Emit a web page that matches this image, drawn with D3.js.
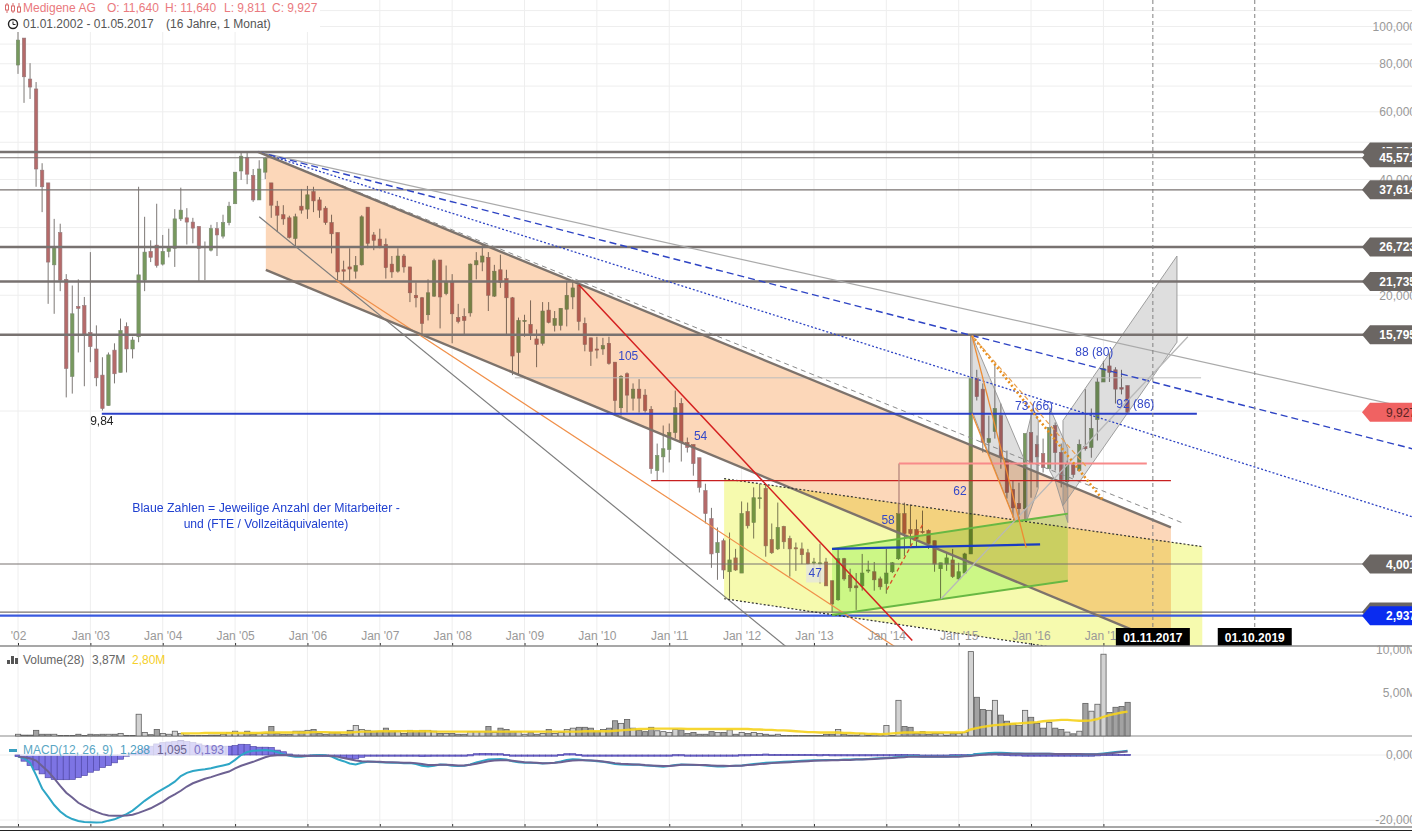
<!DOCTYPE html>
<html><head><meta charset="utf-8">
<script src="https://cdn.jsdelivr.net/npm/d3@7"></script>
<style>
html,body{margin:0;padding:0;background:#fff;overflow:hidden}
svg{display:block;font-family:"Liberation Sans",Arial,sans-serif;font-size:12px}
.blend{mix-blend-mode:multiply}
</style></head><body>
<script>
// ---- monthly OHLC, Jan 2002 .. May 2017 ----
const opens=[79.4,93.3,73.0,68.8,42.3,39.2,24.0,29.1,22.0,12.3,
18.7,18.8,16.0,14.5,12.4,10.33,14.4,12.6,16.6,14.5,
15.6,21.9,26.0,27.0,24.1,26.0,26.5,31.6,31.8,31.0,
30.2,26.7,26.2,29.8,28.5,30.9,34.6,42.1,45.7,41.0,
35.4,41.8,39.2,34.1,32.4,31.8,28.1,34.1,33.5,37.2,
35.4,33.7,30.9,29.1,23.3,23.7,23.1,24.0,33.9,28.7,
28.0,27.1,24.1,23.1,25.3,23.7,20.0,19.7,17.8,19.9,
24.7,20.2,21.6,17.5,17.6,18.0,24.0,24.4,25.1,19.9,
23.3,22.1,19.7,14.2,17.1,16.8,15.4,15.0,18.3,16.7,
16.7,18.4,19.8,21.3,16.9,15.5,14.5,14.5,15.0,13.4,
10.2,12.5,10.8,11.4,11.0,10.1,7.00,7.6,7.94,8.79,
10.46,8.28,8.18,7.56,6.21,5.25,4.28,4.6,3.82,4.15,
3.79,5.48,5.13,5.93,6.29,4.63,4.38,5.01,4.66,4.41,
4.38,4.28,4.03,4.0,4.05,3.62,3.23,4.13,3.74,3.51,
3.51,3.84,3.82,3.66,3.56,3.82,4.13,5.41,4.92,4.92,
4.86,4.89,4.6,3.89,4.0,4.1,3.66,3.79,4.25,12.2,
11.4,8.28,8.85,9.73,7.43,6.25,5.75,5.57,8.79,8.18,
7.75,7.08,9.17,7.8,6.55,7.25,7.0,8.08,8.04,9.5,
11.9,13.1,12.8,11.5,11.64];
const highs=[96.8,93.3,80.3,71.7,44.1,39.2,31.6,30.7,22.7,21.2,
22.0,19.8,25.9,16.7,13.8,14.2,15.0,17.4,17.0,15.6,
38.3,32.0,27.8,34.6,28.7,29.8,33.5,38.1,33.7,31.8,
30.2,27.6,30.5,31.0,32.4,35.0,41.8,47.1,47.4,42.6,
44.9,45.7,39.2,35.2,34.3,32.2,32.6,37.8,38.5,38.3,
36.0,34.1,32.4,29.1,24.6,26.5,25.3,32.3,33.9,29.2,
29.8,28.1,25.3,26.5,25.6,23.7,21.6,19.8,22.0,24.9,
24.7,23.9,22.7,19.0,18.5,24.2,25.9,27.0,25.9,24.0,
25.5,23.3,19.8,17.5,17.8,19.4,16.3,19.2,19.2,18.2,
18.5,21.8,22.0,21.4,17.5,15.5,15.6,15.5,15.6,13.4,
12.4,12.6,11.8,12.1,11.4,10.3,8.23,9.17,9.28,11.3,
10.8,8.53,8.18,7.56,6.47,5.6,4.98,4.66,4.83,4.38,
5.82,5.78,6.33,6.47,6.47,5.1,5.78,5.03,4.74,4.55,
4.55,4.38,4.15,4.52,4.15,3.62,4.38,4.15,3.89,3.79,
4.25,4.08,4.05,3.71,4.38,4.05,5.78,5.78,5.71,5.22,
5.51,4.92,4.6,4.03,4.28,4.38,4.03,4.28,15.7,12.8,
11.8,9.73,13.3,10.46,7.89,6.59,6.51,8.74,9.85,8.64,
8.48,9.06,9.34,8.23,7.43,7.35,8.43,11.4,10.15,12.2,
13.5,14.1,13.0,12.8,11.64];
const lows=[75.3,63.3,64.8,38.3,32.9,19.0,17.9,20.5,10.85,11.1,
14.2,11.6,13.4,11.6,10.03,10.33,11.8,12.6,12.6,13.7,
15.1,20.5,24.4,23.6,23.9,25.1,23.7,31.2,27.1,27.3,
21.8,21.9,26.0,25.3,28.1,30.4,34.6,39.9,38.9,35.0,
35.4,40.1,31.8,29.2,30.5,28.1,26.7,32.6,31.6,32.9,
31.8,30.5,25.7,21.8,21.8,21.6,22.1,23.9,26.5,26.2,
26.5,22.1,22.2,22.9,22.9,19.2,18.6,15.7,17.2,19.8,
16.4,20.0,15.0,16.9,15.7,17.6,22.0,23.1,18.2,19.8,
20.9,15.7,12.4,12.4,15.6,15.3,13.0,14.8,16.9,16.1,
16.2,16.6,18.4,16.2,14.3,13.1,13.7,14.0,13.2,9.73,
9.73,9.91,10.03,9.91,9.91,6.87,6.59,6.92,7.35,8.48,
7.39,7.8,6.79,6.14,5.1,3.91,3.64,3.66,3.25,3.84,
3.79,4.95,4.66,5.57,4.18,4.25,4.35,4.38,3.71,3.84,
4.0,3.98,3.91,3.56,3.51,2.99,3.21,3.62,3.39,3.04,
3.41,3.79,3.41,3.43,3.35,3.79,4.1,4.2,4.41,4.44,
4.8,4.38,3.82,3.25,3.84,3.68,3.64,3.79,4.25,10.65,
7.8,7.66,8.48,7.08,5.92,5.28,5.19,5.19,5.95,6.33,
6.92,7.08,7.0,6.33,6.33,6.71,6.96,7.89,7.56,8.38,
11.9,11.9,10.46,11.05,9.811];
const closes=[92.2,74.0,69.6,42.6,38.3,24.4,26.7,21.9,12.9,17.9,
18.5,15.7,14.7,12.2,10.15,14.0,12.5,16.2,14.5,15.3,
22.6,25.9,25.1,23.9,26.0,26.7,31.6,33.3,31.0,29.9,
26.5,26.8,29.8,28.7,30.9,34.1,41.8,46.0,41.3,35.4,
42.6,45.4,34.3,32.3,31.6,28.3,32.0,33.3,36.5,35.2,
33.3,30.9,28.9,23.0,23.1,23.4,23.9,32.0,27.3,27.8,
26.7,23.6,23.0,25.3,23.7,20.3,19.7,16.9,20.3,24.6,
19.8,21.6,17.9,17.1,17.2,24.1,24.6,25.3,20.0,23.1,
21.6,19.7,13.9,17.2,17.2,15.9,14.9,18.2,17.0,17.4,
18.5,20.0,20.9,17.1,14.9,14.3,14.4,14.8,13.3,10.65,
12.3,11.0,11.4,10.8,10.03,7.08,7.66,7.98,8.79,10.2,
8.28,8.04,7.3,6.33,5.41,4.25,4.55,3.86,4.1,3.86,
5.41,5.03,5.95,5.95,4.46,4.28,4.98,4.57,4.38,4.38,
4.23,4.0,4.05,4.03,3.51,3.15,4.13,3.66,3.47,3.47,
3.79,3.86,3.64,3.49,3.79,4.03,5.41,4.8,4.8,4.66,
4.83,4.52,4.0,4.03,4.15,3.71,3.82,4.25,12.2,10.9,
8.28,8.48,10.15,7.56,6.14,5.6,5.57,8.74,7.3,7.6,
7.13,9.06,7.8,6.63,7.3,6.84,8.18,7.98,9.0,11.9,
12.9,12.6,11.4,11.4,9.927];
// ---- volume (millions) and its 28-period average ----
const volumes=[.2,.1,.1,.65,.2,.2,.2,.05,.05,.05,
.2,.05,.2,.15,.2,.2,.2,.3,.05,.05,
2.5,.4,.15,.75,.3,.2,.55,.3,.1,.05,
.05,.05,.1,.1,.2,.4,.55,.3,.55,.2,
.3,.3,1.1,.3,.2,.2,.55,.55,.65,.75,
.3,.2,.4,.4,.2,.65,1.2,.75,.65,.55,
.55,.9,.55,.55,.3,.65,.55,.65,.65,.55,
.3,.3,.3,.2,.2,.5,.5,.5,1.1,.4,
.9,.75,.5,.5,.2,.4,.2,.3,.75,.3,
.4,.75,.9,1.0,1.0,.9,.5,.75,.9,1.75,
1.45,1.9,.9,.65,.5,1.0,.6,.5,.4,.75,
.7,.3,.4,.2,.2,.5,.4,.4,.7,.2,
.4,.3,.4,.3,.2,.1,.2,.05,.05,.05,
.05,.05,.05,.05,.2,.2,.75,.2,.1,.1,
.3,.1,.3,.2,1.2,.05,4.1,1.1,1.0,.3,
.5,.2,.3,.3,.1,.3,.3,.4,9.7,4.45,
3.05,2.95,4.1,2.4,1.7,1.4,1.2,2.95,2.15,1.45,
.9,1.55,.9,.75,.45,.25,.55,3.75,2.85,3.65,
9.4,2.7,3.3,3.4,3.87];
const volumeAvgFirstMonth=27;
const volumeAvg=[.3,.3,.3,.3,.35,.35,.35,.35,.35,.35,
.35,.35,.35,.35,.4,.4,.4,.4,.4,.4,
.4,.4,.45,.45,.45,.4,.4,.4,.4,.45,
.5,.5,.5,.55,.55,.55,.55,.55,.55,.55,.55,.55,.5,
.5,.5,.5,.5,.5,.5,.5,.5,.5,.5,
.5,.5,.5,.5,.5,.5,.5,.5,.5,.5,
.5,.5,.5,.5,.55,.55,.55,.55,.55,.6,
.65,.7,.75,.8,.8,.85,.85,.85,.85,.85,
.85,.8,.8,.8,.8,.8,.8,.8,.8,.8,
.8,.8,.75,.75,.7,.7,.65,.65,.6,.55,
.5,.45,.45,.4,.4,.4,.4,.35,.35,.3,
.3,.25,.25,.2,.25,.3,.35,.4,.4,.4,
.4,.4,.4,.4,.4,.4,.4,.45,.75,.9,
1.05,1.15,1.25,1.3,1.35,1.4,1.45,1.5,1.55,1.6,
1.7,1.75,1.8,1.85,1.85,1.8,1.75,1.75,1.8,1.95,
2.2,2.4,2.55,2.7,2.8];
// ---- MACD(12,26,9) ----
const macdLine=[-.5,-1.0,-2.4,-6.2,-10.3,-12.8,-15.4,-17.4,-18.8,-19.7,
-20.3,-20.6,-20.7,-20.8,-20.7,-20.2,-19.8,-19.0,-18.2,-17.1,
-15.6,-14.1,-12.8,-11.6,-10.5,-9.4,-8.2,-6.5,-5.5,-4.9,
-4.6,-4.4,-4.1,-3.6,-3.2,-2.8,-1.5,0,.9,1.3,
1.4,1.5,1.3,.9,.2,-.2,-.5,-.5,-.3,-.1,
0,-.1,-.5,-1.3,-1.9,-2.6,-2.9,-2.4,-2.1,-2.1,
-2.2,-2.3,-2.4,-2.4,-2.5,-2.5,-2.8,-3.3,-3.5,-3.3,
-2.9,-3.0,-3.3,-3.4,-3.3,-2.9,-2.3,-1.8,-1.4,-1.3,
-1.2,-1.4,-1.9,-2.2,-2.4,-2.4,-2.5,-2.6,-2.5,-2.4,
-2.0,-1.5,-1.3,-1.4,-1.6,-1.7,-1.9,-2.1,-2.4,-2.8,
-2.9,-3.0,-2.9,-3.0,-3.2,-3.3,-3.5,-3.6,-3.4,-3.1,
-2.9,-3.0,-3.1,-3.1,-3.2,-3.4,-3.5,-3.5,-3.4,-3.3,
-3.2,-3.0,-2.8,-2.6,-2.4,-2.3,-2.2,-2.1,-2.0,-1.9,
-1.8,-1.7,-1.6,-1.6,-1.5,-1.5,-1.5,-1.4,-1.4,-1.3,
-1.3,-1.2,-1.1,-1.0,-.9,-.8,-.6,-.5,-.4,-.4,
-.5,-.5,-.5,-.5,-.5,-.4,-.4,-.3,-.1,.3,
.5,.6,.7,.7,.6,.5,.5,.4,.4,.4,
.4,.4,.3,.3,.3,.2,.2,.2,.2,.3,
.5,.7,.9,1.1,1.288];
const signalLine=[-.5,-.7,-1.0,-1.7,-3.4,-5.1,-7.2,-9.5,-11.6,-13.1,
-14.7,-15.7,-16.7,-17.5,-18.2,-18.6,-18.7,-18.7,-18.6,-18.4,
-17.8,-17.1,-16.4,-15.4,-14.4,-13.1,-12.1,-11.0,-9.7,-8.7,
-8.0,-7.3,-6.8,-6.2,-5.6,-5.1,-4.1,-3.3,-2.7,-2.1,
-1.4,-.7,-.2,-.1,0,-.1,-.2,-.3,-.3,-.2,
-.2,-.2,-.3,-.5,-.9,-1.3,-1.7,-1.9,-2.0,-2.1,
-2.1,-2.2,-2.2,-2.3,-2.4,-2.4,-2.5,-2.8,-3.1,-3.1,
-3.0,-3.0,-3.1,-3.2,-3.2,-3.0,-2.7,-2.3,-1.9,-1.7,
-1.6,-1.6,-1.8,-2.0,-2.2,-2.3,-2.4,-2.5,-2.5,-2.4,
-2.2,-1.9,-1.7,-1.6,-1.6,-1.7,-1.8,-2.0,-2.2,-2.5,
-2.7,-2.8,-2.9,-2.9,-3.1,-3.2,-3.3,-3.4,-3.4,-3.2,
-3.0,-3.0,-3.0,-3.1,-3.1,-3.2,-3.3,-3.3,-3.4,-3.3,
-3.3,-3.1,-3.0,-2.8,-2.7,-2.5,-2.4,-2.3,-2.2,-2.1,
-2.0,-1.9,-1.8,-1.7,-1.7,-1.6,-1.6,-1.5,-1.5,-1.4,
-1.4,-1.3,-1.2,-1.1,-1.0,-.9,-.8,-.7,-.5,-.5,
-.5,-.5,-.5,-.5,-.5,-.5,-.5,-.4,-.3,-.1,
.1,.2,.3,.4,.4,.4,.4,.4,.4,.4,
.4,.4,.3,.3,.3,.3,.3,.2,.2,.2,
.3,.5,.7,.9,1.095];
const macdHist=[-.5,-1.9,-3.2,-4.6,-5.8,-7.0,-7.5,-7.6,-7.6,-7.5,
-6.9,-6.3,-5.3,-4.7,-3.8,-3.2,-2.4,-1.3,0,.5,
1.0,2.0,2.7,3.4,3.8,4.0,4.2,4.3,4.2,3.9,
3.4,3.0,2.8,2.7,2.7,2.7,2.9,3.3,3.2,2.6,
2.4,2.4,2.3,1.5,1.0,.3,-.1,-.1,0,0,
0,0,-.2,-.6,-.9,-1.1,-1.2,-.7,-.2,0,
-.1,-.1,-.2,-.1,-.1,-.1,-.3,-.5,-.4,-.2,
0,0,-.2,-.2,-.1,.1,.4,.5,.5,.4,
.4,.2,-.1,-.2,-.2,-.1,-.1,-.1,0,0,
.2,.4,.4,.2,0,0,-.1,-.1,-.2,-.3,
-.2,-.2,0,-.1,-.1,-.1,-.2,-.2,0,.1,
.1,0,-.1,0,-.1,-.2,-.2,-.2,0,0,
.1,.1,.2,.2,.3,.2,.2,.2,.2,.2,
.2,.2,.2,.1,.2,.1,.1,.1,.1,.1,
.1,.1,.1,.1,.1,.1,.2,.2,.1,.1,
0,0,0,0,0,.1,.1,.1,.2,.4,
.4,.4,.4,.3,.2,.1,.1,0,0,0,
0,0,0,0,0,-.1,-.1,0,0,.1,
.2,.2,.2,.2,.193];
// ---- axis labels ----
const timeTickMonths=[0,12,24,36,48,60,72,84,96,108,120,132,144,156,168,180];
const timeTickLabels=["'02","Jan '03","Jan '04","Jan '05","Jan '06","Jan '07","Jan '08","Jan '09","Jan '10","Jan '11","Jan '12","Jan '13","Jan '14","Jan '15","Jan '16","Jan '17"];
const priceGridValues=[110,100,90,80,70,60,50,40,30,20,10];
const priceTickValues=[100,80,60,40,20];
const volumeTickValues=[10,5];
const macdTickValues=[0,-20];
// ---- horizontal levels ----
const levelPrices=[47.2,45.571,37.614,26.723,21.735,15.795,4.001,3.0];
const levelWidths=[2.5,1.2,1.2,2.5,2.5,2.5,1.2,1.2];
const levelLabels=["47,528","45,571","37,614","26,723","21,735","15,795","4,001","3,000"];
const lastClose=9.927, lastCloseLabel="9,927";
const blueLevel=2.937, blueLevelLabel="2,937";
// ---- drawing tools: [month index, price] ----
const orangeChannel=[[41.1,46.3],[191.2,4.98],[191.2,2.45],[41.1,23.3]];
const channelTop=[[39.8,47.2],[191.2,4.98]];
const channelBottom=[[41.1,23.3],[191.2,2.45]];
const grayDashed=[[39.8,47.2],[193.5,5.09]];
const blueDashed=[[39.8,47.2],[231.2,7.98]];
const blueDotted=[[39.8,47.2],[231.2,5.31]];
const grayFan=[[39.8,47.2],[231.2,10.15]];
const darkFan=[[40.0,32.0],[127.5,2.43]];
const orangeFan=[[52.7,21.9],[145.4,2.44]];
const redTrend=[[93.0,21.3],[148.3,2.53]];
const redLevel=[[105,6.59],[191.2,6.59]];
const paleRedLevel=[[146.1,7.3],[187.2,7.3]];
const paleRedStem=[[146.1,7.3],[146.1,5.41]];
const supportLevel=[[13.9,9.84],[195.5,9.84]];
const blueShort=[[135,4.38],[169.5,4.5]];
const paleLevel=[[82.4,12.2],[196.2,12.2]];
const yellowChannel=[[117.1,6.67],[196.4,4.44],[196.4,2.13],[117.1,3.25]];
const yellowTop=[[117.1,6.67],[196.4,4.44]];
const yellowBottom=[[117.1,3.25],[196.4,2.13]];
const greenChannel=[[135,4.38],[174.1,5.41],[174.1,3.62],[135,2.95]];
const greenTop=[[135,4.38],[174.1,5.41]];
const greenBottom=[[135,2.95],[174.1,3.62]];
const grayShapes=[
 [[158.2,15.7],[167.3,7.21],[167.3,5.19],[165.3,5.19],[158.2,10.03]],
 [[167.3,5.19],[167.3,8.74],[168.3,10.15],[169.2,9.45],[169.2,6.29]],
 [[171.1,10.2],[174.1,7.98],[174.1,5.13],[172,6.59],[171.1,7.0]],
 [[173.3,9.45],[192.2,25.3],[192.2,15.1],[173.3,5.68]]];
const orangeEdgeA=[[158.2,15.7],[167.2,4.41]];
const orangeEdgeB=[[158.2,9.85],[165.3,5.19]];
const orangeDotted=[[158.2,15.7],[179.9,5.88]];
const orangeDashed=[[158.2,15.7],[177.3,7.13]];
const redDashed=[[144.1,3.43],[150.1,5.09]];
const paleRise=[[153.1,3.25],[194,15.6]];
const futureMonths=[188.2,205.1];
const futureLabels=["01.11.2017","01.10.2019"];
// ---- chart notes ----
const noteMonths=[101.2,113.2,156.2,144.3,132.2,168.5,178.5,185.3];
const notePrices=[13.9,8.6,6.19,5.2,3.78,10.3,14.2,10.4];
const noteTexts=["105","54","62","58","47","73 (66)","88 (80)","92 (86)"];

const W=1412,H=831,RIGHT_TEXT=1416;
const svg=d3.select("body").append("svg").attr("width",W).attr("height",H);
const x=d3.scaleLinear().domain([0,184]).range([18,18+6.03*184]);
const y=d3.scaleLog().domain([100,1]).range([26.5,26.5+167*Math.log(100)]);
const yVol=d3.scaleLinear().domain([0,10]).range([736,649]);
const yMacd=d3.scaleLinear().domain([0,-20]).range([755,820]);
const lineP=d3.line().x(d=>x(d[0])).y(d=>y(d[1]));
const months=d3.range(opens.length);
const defs=svg.append("defs");
defs.append("clipPath").attr("id","main").append("rect").attr("width",W).attr("height",646);

// grid
const grid=svg.append("g").attr("stroke","#eeeeee").attr("stroke-width",1);
grid.selectAll(".v").data(timeTickMonths).join("line").attr("x1",d=>x(d)).attr("x2",d=>x(d)).attr("y1",0).attr("y2",827);
grid.selectAll(".h").data(priceGridValues).join("line").attr("x1",0).attr("x2",W).attr("y1",d=>y(d)).attr("y2",d=>y(d));
grid.selectAll(".m").data(macdTickValues).join("line").attr("x1",0).attr("x2",W).attr("y1",d=>yMacd(d)).attr("y2",d=>yMacd(d));

// price axis labels
const yAxis=d3.axisLeft(y).tickValues(priceTickValues).tickSize(0).tickPadding(0).tickFormat(d=>d.toFixed(3).replace(".",","));
const gy=svg.append("g").attr("transform",`translate(${RIGHT_TEXT},0)`).call(yAxis);
gy.select(".domain").remove();
gy.selectAll("text").attr("fill","#999").attr("font-size",12).attr("font-family","Liberation Sans");

const main=svg.append("g").attr("clip-path","url(#main)");
// candles
const candles=main.append("g");
candles.selectAll("line").data(months).join("line")
 .attr("x1",i=>x(i)).attr("x2",i=>x(i)).attr("y1",i=>y(highs[i])).attr("y2",i=>y(lows[i]))
 .attr("stroke","#7d7875").attr("stroke-width",1);
candles.selectAll("rect").data(months).join("rect")
 .attr("x",i=>x(i)-1.7).attr("width",3.4)
 .attr("y",i=>y(Math.max(opens[i],closes[i])))
 .attr("height",i=>Math.max(1,Math.abs(y(opens[i])-y(closes[i]))))
 .attr("fill",i=>closes[i]>opens[i]?"#77995e":"#b56a6a")
 .attr("stroke",i=>closes[i]>opens[i]?"#7b8a70":"#94797a").attr("stroke-width",.6);

// filled tools
function fillShape(pts,col){main.append("path").attr("class","blend").attr("d",lineP(pts)+"Z").attr("fill",col);}
fillShape(yellowChannel,"#f6faae");
fillShape(orangeChannel,"#fcd7b9");
fillShape(greenChannel,"#d4fcc4");
grayShapes.forEach(s=>fillShape(s,"#dedede"));
function stroke(pts,col,w,dash){const p=main.append("path").attr("d",lineP(pts)).attr("fill","none").attr("stroke",col).attr("stroke-width",w);if(dash)p.attr("stroke-dasharray",dash);return p;}
grayShapes.forEach(s=>stroke(s.concat([s[0]]),"#949494",.9));

// horizontal levels
levelPrices.forEach((p,k)=>{main.append("line").attr("x1",0).attr("x2",1365).attr("y1",y(p)).attr("y2",y(p)).attr("stroke","#787270").attr("stroke-width",levelWidths[k]);});
main.append("line").attr("x1",0).attr("x2",1365).attr("y1",y(blueLevel)).attr("y2",y(blueLevel)).attr("stroke","#3a5ae0").attr("stroke-width",2.2);
stroke(paleLevel,"#bdbdbd",1);

// line tools
stroke(darkFan,"#7d7d7d",1.2);
stroke(orangeFan,"#f0904a",1.2);
stroke(grayFan,"#aaaaaa",1.2);
stroke(grayDashed,"#8a8a8a",1,"5,4");
stroke(blueDashed,"#2e44c4",1.4,"7,4");
stroke(blueDotted,"#2e44c4",1.3,"2,2");
stroke(channelTop,"#7d736c",2.4);
stroke(channelBottom,"#7d736c",2.4);
stroke(yellowTop,"#333",1.2,"2,2");
stroke(yellowBottom,"#333",1.2,"2,2");
stroke(greenTop,"#68b843",2);
stroke(greenBottom,"#68b843",2);
stroke(paleRise,"#b8b8b8",1.3);
stroke(redTrend,"#d42020",1.5);
stroke(redLevel,"#c82020",1.2);
stroke(paleRedStem,"#b08078",1.2);
stroke(paleRedLevel,"#f88a8a",2);
stroke(supportLevel,"#2a3fc8",2.2);
stroke(blueShort,"#1a3cc0",2.2);
stroke(orangeEdgeA,"#ee8c32",1.3);
stroke(orangeEdgeB,"#ee8c32",1.3);
stroke(orangeDotted,"#e8901e",2.6,"2,2.5");
stroke(orangeDashed,"#e9a050",1.2,"5,3");
stroke(redDashed,"#d8502a",1.3,"4,3");

// future verticals
main.selectAll(".fut").data(futureMonths).join("line")
 .attr("x1",d=>x(d)).attr("x2",d=>x(d)).attr("y1",0).attr("y2",646)
 .attr("stroke","#808080").attr("stroke-dasharray","4,3");

// notes
main.append("rect").attr("x",x(noteMonths[4])-9).attr("y",y(notePrices[4])-9).attr("width",18).attr("height",18).attr("fill","#e6e6dc").attr("opacity",.8);
main.selectAll(".note").data(noteTexts).join("text")
 .attr("x",(d,i)=>x(noteMonths[i])).attr("y",(d,i)=>y(notePrices[i])+4)
 .attr("text-anchor","middle").attr("fill","#3448c8").text(d=>d);
main.append("text").attr("x",x(13.9)).attr("y",y(9.84)+11).attr("text-anchor","middle").attr("fill","#222").text("9,84");
main.append("text").attr("x",266).attr("y",512).attr("text-anchor","middle").attr("fill","#2040d0").attr("font-size",12.3).text("Blaue Zahlen = Jeweilige Anzahl der Mitarbeiter - ");
main.append("text").attr("x",266).attr("y",528).attr("text-anchor","middle").attr("fill","#2040d0").attr("font-size",12.1).text("und (FTE / Vollzeitäquivalente)");

// time axis
const xAxisTop=d3.axisTop(x).tickValues(timeTickMonths).tickSize(3).tickPadding(3).tickFormat((d,i)=>timeTickLabels[i]);
const gx=svg.append("g").attr("transform","translate(0,646)").call(xAxisTop);
gx.select(".domain").remove();
gx.selectAll("line").attr("stroke","#333");
gx.selectAll("text").attr("fill","#999").attr("font-size",12).attr("font-family","Liberation Sans");
const gx2=svg.append("g").attr("transform","translate(0,827)").call(d3.axisTop(x).tickValues(timeTickMonths).tickSize(3).tickFormat(""));
gx2.select(".domain").remove();gx2.selectAll("line").attr("stroke","#333");
// future date tags
const tags=svg.selectAll(".tag").data(futureMonths).join("g").attr("transform",d=>`translate(${x(d)},637)`);
tags.append("rect").attr("x",-37).attr("y",-9).attr("width",74).attr("height",18).attr("fill","#000");
tags.append("text").attr("y",4.5).attr("text-anchor","middle").attr("fill","#fff").attr("font-weight","bold").text((d,i)=>futureLabels[i]);

// panel borders
[[646,"#8a8a8a",1.5],[736,"#8a8a8a",1.2],[827,"#8a8a8a",1.5],[830.5,"#222",1]].forEach(a=>svg.append("line").attr("x1",0).attr("x2",W).attr("y1",a[0]).attr("y2",a[0]).attr("stroke",a[1]).attr("stroke-width",a[2]));

// price tags
const tagPath=d3.line().x(d=>d[0]).y(d=>d[1]);
function priceTag(p,label,fill,txtCol,weight){
 const c=y(p);
 svg.append("path").attr("d",tagPath([[1362,c],[1370,c-9.5],[1412,c-9.5],[1412,c+9.5],[1370,c+9.5]])+"Z").attr("fill",fill);
 svg.append("text").attr("x",RIGHT_TEXT).attr("y",c+4.5).attr("text-anchor","end").attr("fill",txtCol).attr("font-weight",weight).text(label);
}
levelPrices.forEach((p,k)=>priceTag(p,levelLabels[k],"#6b6663","#fff","bold"));
priceTag(lastClose,lastCloseLabel,"#f06262","#5a2222","normal");
priceTag(blueLevel,blueLevelLabel,"#0a2cf0","#fff","bold");

// volume panel
svg.append("g").selectAll("rect").data(months).join("rect")
 .attr("x",i=>x(i)-2.5).attr("width",5.2).attr("y",i=>yVol(volumes[i]))
 .attr("height",i=>yVol(0)-yVol(volumes[i]))
 .attr("fill",i=>closes[i]>opens[i]?"#d2d2d2":"#a2a2a2").attr("stroke","#5f5f5f").attr("stroke-width",.8);
svg.append("path").datum(volumeAvg).attr("fill","none").attr("stroke","#f5d21f").attr("stroke-width",2.4).attr("opacity",.92)
 .attr("d",d3.line().x((d,i)=>x(i+volumeAvgFirstMonth)).y(d=>yVol(d)));
svg.selectAll(".vt").data(volumeTickValues).join("text").attr("x",RIGHT_TEXT).attr("y",d=>d===10?654:697).attr("text-anchor","end").attr("fill","#999").text(d=>d.toFixed(2).replace(".",",")+"M");

// MACD panel
svg.append("g").selectAll("rect").data(months).join("rect")
 .attr("x",i=>x(i)-3).attr("width",6.03)
 .attr("y",i=>Math.min(yMacd(macdHist[i]),yMacd(0)))
 .attr("height",i=>Math.max(1.2,Math.abs(yMacd(macdHist[i])-yMacd(0))))
 .attr("fill","#7d74e4").attr("stroke","#5048a8").attr("stroke-width",.7);
svg.append("rect").attr("x",20).attr("y",741).attr("width",208).attr("height",15).attr("fill","#fff").attr("opacity",.72);
const lineM=d3.line().x((d,i)=>x(i)).y(d=>yMacd(d));
svg.append("path").datum(macdLine).attr("fill","none").attr("stroke","#2ea6c6").attr("stroke-width",2).attr("d",lineM);
svg.append("path").datum(signalLine).attr("fill","none").attr("stroke","#6d6192").attr("stroke-width",2).attr("d",lineM);
svg.selectAll(".mt").data(macdTickValues).join("text").attr("x",RIGHT_TEXT).attr("y",d=>yMacd(d)+4).attr("text-anchor","end").attr("fill","#999").text(d=>d.toFixed(3).replace(".",","));

// legends
svg.append("rect").attr("x",0).attr("y",0).attr("width",320).attr("height",32).attr("fill","#fff");
const txt=(s,xp,yp,c)=>svg.append("text").attr("x",xp).attr("y",yp).attr("fill",c).text(s);
[["Medigene AG",23],["O: 11,640",107],["H: 11,640",165],["L: 9,811",224],["C: 9,927",272]].forEach(a=>txt(a[0],a[1],12,"#ea7a7e"));
[0,1,2].forEach(k=>{const cx=7+k*6;svg.append("line").attr("x1",cx).attr("x2",cx).attr("y1",3).attr("y2",13).attr("stroke","#d86a6a");svg.append("rect").attr("x",cx-1.5).attr("y",5+k).attr("width",3).attr("height",5).attr("fill","#fff").attr("stroke","#d86a6a");});
svg.append("circle").attr("cx",13).attr("cy",24).attr("r",4.5).attr("fill","none").attr("stroke","#222").attr("stroke-width",1.4);
svg.append("path").attr("d","M13 21.5V24.5H15.5").attr("fill","none").attr("stroke","#222");
txt("01.01.2002 - 01.05.2017",23,28,"#555");
txt("(16 Jahre, 1 Monat)",166,28,"#555");
[[7,4],[11,8],[15,6]].forEach(a=>svg.append("rect").attr("x",a[0]).attr("y",664-a[1]).attr("width",3).attr("height",a[1]).attr("fill","#555"));
txt("Volume(28)",23,664,"#666");
txt("3,87M",92,664,"#666");
txt("2,80M",132,664,"#f5cf2a");
svg.append("rect").attr("x",9).attr("y",749).attr("width",8).attr("height",3).attr("fill","#3aa0c0");
txt("MACD(12, 26, 9)",23,754,"#5aa6c4");
txt("1,288",120,754,"#4a9cc0");
txt("1,095",157,754,"#6a6490");
txt("0,193",194,754,"#7c74c8");
</script>
</body></html>
